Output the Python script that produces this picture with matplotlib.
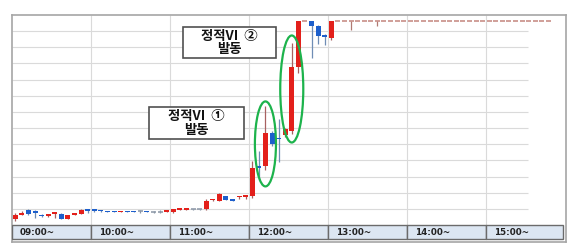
import pandas as pd
import matplotlib.pyplot as plt
from matplotlib.patches import Rectangle, Ellipse

# 5분봉 (09:00 ~ ), 가격 단위: 원
opens = [9950, 10010, 10075, 10045, 10010, 9990, 10020, 10025, 9950, 10010, 10025, 10085,
         10075, 10065, 10065, 10065, 10045, 10065, 10065, 10060, 10065, 10055, 10055, 10050,
         10045, 10085, 10080, 10090, 10090, 10090, 10230, 10225, 10300, 10250, 10280, 10285,
         10300, 10765, 10765, 11280, 11190, 11245, 11300, 12290, 13000, 13000, 12935, 12785,
         12750, 13000, 13000, 13000, 13000, 13000, 13000, 13000, 13000, 13000, 13000, 13000,
         13000, 13000, 13000, 13000, 13000, 13000, 13000, 13000, 13000, 13000, 13000, 13000,
         13000, 13000, 13000, 13000, 13000, 13000, 13000, 13000, 13000, 13000]
highs = [10040, 10060, 10090, 10075, 10020, 10020, 10035, 10035, 10005, 10025, 10090, 10090,
         10090, 10080, 10065, 10065, 10065, 10065, 10065, 10080, 10065, 10070, 10075, 10075,
         10095, 10105, 10105, 10105, 10105, 10260, 10255, 10340, 10305, 10260, 10300, 10295,
         10845, 10995, 11690, 11305, 11485, 11345, 12660, 13000, 13000, 13000, 12945, 12805,
         13000, 13000, 13000, 13000, 13000, 13000, 13000, 13000, 13000, 13000, 13000, 13000,
         13000, 13000, 13000, 13000, 13000, 13000, 13000, 13000, 13000, 13000, 13000, 13000,
         13000, 13000, 13000, 13000, 13000, 13000, 13000, 13000, 13000, 13000]
lows = [9915, 10005, 10005, 9960, 9980, 9980, 9960, 9950, 9945, 10010, 10020, 10035,
        10050, 10050, 10045, 10045, 10045, 10045, 10045, 10040, 10045, 10040, 10040, 10045,
        10040, 10085, 10080, 10075, 10075, 10080, 10220, 10215, 10230, 10225, 10260, 10250,
        10270, 10545, 10700, 11070, 10830, 11215, 11260, 12195, 13000, 12440, 12650, 12630,
        12720, 13000, 13000, 12870, 13000, 13000, 13000, 12930, 13000, 13000, 13000, 13000,
        13000, 13000, 13000, 13000, 13000, 13000, 13000, 13000, 13000, 13000, 13000, 13000,
        13000, 13000, 13000, 13000, 13000, 13000, 13000, 13000, 13000, 13000]
closes = [10010, 10035, 10025, 10035, 9985, 10005, 10035, 9950, 10000, 10025, 10085, 10065,
          10065, 10060, 10045, 10045, 10065, 10045, 10045, 10060, 10045, 10055, 10055, 10070,
          10090, 10095, 10095, 10090, 10090, 10220, 10240, 10330, 10235, 10225, 10290, 10295,
          10725, 10730, 11270, 11100, 11175, 11335, 12290, 13000, 13000, 12935, 12775, 12760,
          13000, 13000, 13000, 13000, 13000, 13000, 13000, 13000, 13000, 13000, 13000, 13000,
          13000, 13000, 13000, 13000, 13000, 13000, 13000, 13000, 13000, 13000, 13000, 13000,
          13000, 13000, 13000, 13000, 13000, 13000, 13000, 13000, 13000, 13000]
upper_limit = 13000

hour_labels = ["09:00~", "10:00~", "11:00~", "12:00~", "13:00~", "14:00~", "15:00~"]
notes = ["정적VI  ①\n발동", "정적VI  ②\n발동"]

RED, BLUE, GRAY = "#e3201b", "#1d5fcc", "#8a96a6"
RED_W, BLUE_W = "#a86060", "#6f8db5"

times = pd.date_range("09:00", periods=len(opens), freq="5min")
x = [(t - times[0]).total_seconds() / 60 + 2.5 for t in times]

fig = plt.figure(figsize=(5.8, 2.52), dpi=100)
ax = fig.add_axes([12 / 580, 10 / 252, 554 / 580, 227 / 252])
ax.set_xlim(0, 420.8)
ax.set_ylim(9587, 13100)
ax.set_xticks([])
ax.set_yticks([])
for s in ax.spines.values():
    s.set_color("#a6a6a6")
    s.set_linewidth(1.2)

# 격자
plot_bottom = 9850
for lvl in range(plot_bottom + 250, 13100, 250):
    ax.hlines(lvl, 0, 392, color="#dadada", lw=0.8, zorder=0)
for m in range(60, 361, 60):
    ax.vlines(m, plot_bottom, 13100, color="#dadada", lw=0.8, zorder=0)

# 캔들
w = 3.8
for xi, o, h, l, c in zip(x, opens, highs, lows, closes):
    if c > o:
        col, wc = RED, RED_W
    elif c < o:
        col, wc = BLUE, BLUE_W
    elif c >= upper_limit:
        col, wc = "#c4857d", "#b07a72"
    else:
        col, wc = GRAY, GRAY
    if h > l:
        ax.vlines(xi, l, h, color=wc, lw=0.9, zorder=2)
    if c == o:
        ax.hlines(c, xi - w / 2, xi + w / 2, color=col, lw=1.1, zorder=3)
    else:
        ht = max(abs(c - o), 26)
        ax.bar(xi, ht, bottom=min(o, c), width=w, color=col, lw=0, zorder=3)

# 하단 시간 표시줄
bar_top, bar_bot = plot_bottom, 9633
edges = [0, 60, 120, 180, 240, 300, 360, 418.5]
for i, lab in enumerate(hour_labels):
    ax.add_patch(Rectangle((edges[i], bar_bot), edges[i + 1] - edges[i], bar_top - bar_bot,
                           fc="#dce6f2", ec="#6b6b6b", lw=1.0, zorder=4))
    ax.text(edges[i] + 6, (bar_top + bar_bot) / 2, lab, fontsize=6.3, fontweight="bold",
            family="DejaVu Sans", color="#222222", va="center", ha="left", zorder=5)

# 설명 상자
boxes = [(104, 11180, 72, 495), (130, 12435, 70.5, 480)]
for (bx, by, bw, bh), txt in zip(boxes, notes):
    ax.add_patch(Rectangle((bx, by), bw, bh, fc="white", ec="#505050", lw=1.2, zorder=5))
    ax.text(bx + bw / 2, by + bh / 2, txt, ha="center", va="center", fontsize=9.6,
            fontweight="bold", family=["Noto Sans CJK KR", "DejaVu Sans"],
            color="#111111", linespacing=0.95, zorder=6)

# VI 발동 캔들 표시
for xc, yc, ew, eh in [(x[38], 11105, 16, 1315), (x[42], 11955, 17.5, 1656)]:
    ax.add_patch(Ellipse((xc, yc), ew, eh, fill=False, ec="#1db34c", lw=1.6, zorder=6))

fig.savefig("out.png", dpi=100, facecolor="white")
